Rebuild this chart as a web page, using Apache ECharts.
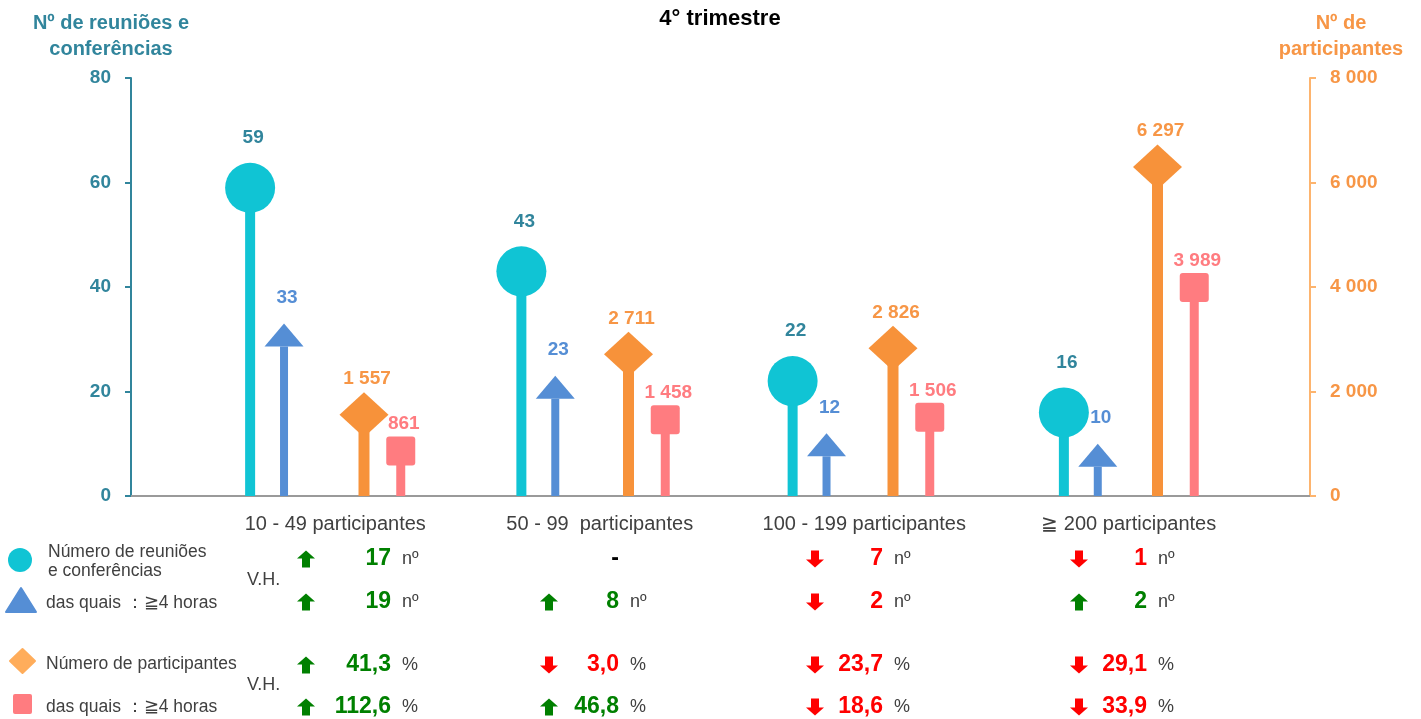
<!DOCTYPE html>
<html>
<head>
<meta charset="utf-8">
<title>4° trimestre</title>
<script src="https://cdn.jsdelivr.net/npm/echarts@6/dist/echarts.min.js"></script>
<style>
  html, body { margin: 0; padding: 0; background: #fff; }
  #chart { width: 1421px; height: 719px; }
</style>
</head>
<body>
<div id="chart"></div>
<script>
// categories and values
const categories = ['10 - 49 participantes', '50 - 99  participantes', '100 - 199 participantes', '≧ 200 participantes']
const meetings = [59, 43, 22, 16]
const meetings4h = [33, 23, 12, 10]
const participants = [1557, 2711, 2826, 6297]
const participants4h = [861, 1458, 1506, 3989]

// axis ranges
const leftMax = 80, leftStep = 20
const rightMax = 8000, rightStep = 2000

// variação homóloga (null = sem variação)
const vhMeetings = [17, null, -7, -1]
const vhMeetings4h = [19, 8, -2, 2]
const vhParticipants = [41.3, -3.0, -23.7, -29.1]
const vhParticipants4h = [112.6, 46.8, -18.6, -33.9]

const FONT = "'Liberation Sans', Arial, sans-serif"
const TEAL = '#31859C'
const ORANGE_TXT = '#F79646'
const GREY_TXT = '#404040'

function spaced(v) {
  return String(v).replace(/\B(?=(\d{3})+(?!\d))/g, ' ')
}

// lollipop drawn with a custom series: stem + head + label
function lollipop(name, data, xIdx, yIdx, cfg) {
  return {
    name: name,
    type: 'custom',
    coordinateSystem: 'cartesian2d',
    xAxisIndex: xIdx,
    yAxisIndex: yIdx,
    data: data.map((v, i) => [i, v]),
    encode: { x: 0, y: 1 },
    renderItem: function(params, api) {
      const i = api.value(0), v = api.value(1)
      const p = api.coord([i, v])
      const base = api.coord([i, 0])[1]
      const x = p[0] + cfg.dx, y = p[1]
      let head
      if (cfg.shape === 'circle') {
        head = { type: 'circle', shape: { cx: x, cy: y, r: 25 } }
      } else if (cfg.shape === 'triangle') {
        head = { type: 'polygon', shape: { points: [[x, y], [x + 19.5, y + 23], [x - 19.5, y + 23]] } }
      } else if (cfg.shape === 'diamond') {
        head = { type: 'polygon', shape: { points: [[x, y - 22.5], [x + 24.5, y], [x, y + 22.5], [x - 24.5, y]] } }
      } else {
        head = { type: 'rect', shape: { x: x - 14.5, y: y - 14.5, width: 29, height: 29, r: 3 } }
      }
      head.style = { fill: cfg.color }
      const stemTop = y + (cfg.stemFrom || 0)
      return {
        type: 'group',
        children: [
          { type: 'rect', shape: { x: x - cfg.stem / 2, y: stemTop, width: cfg.stem, height: base - stemTop }, style: { fill: cfg.color } },
          head,
          {
            type: 'text',
            style: {
              x: x + 3, y: y - cfg.labelGap,
              text: spaced(v),
              align: 'center', verticalAlign: 'middle',
              fill: cfg.labelColor,
              font: 'bold 19px ' + FONT
            }
          }
        ]
      }
    }
  }
}

// bottom table (V.H.)
const colArrow = [306, 549, 815, 1079]
const colValue = [391, 619, 883, 1147]
const rowY = [559, 602, 665, 707]

function arrow(cx, cy, up, color) {
  const s = up ? 1 : -1
  const pts = [[0, -8.5], [9, -0.5], [4, -0.5], [4, 8.5], [-4, 8.5], [-4, -0.5], [-9, -0.5]]
  return {
    type: 'polygon',
    shape: { points: pts.map(q => [cx + q[0], cy + s * q[1]]) },
    style: { fill: color }
  }
}

function tableRow(values, y, decimals, unit) {
  const els = []
  values.forEach((v, i) => {
    if (v === null) {
      els.push({ type: 'text', style: { x: colValue[i], y: y, text: '-', align: 'right', verticalAlign: 'middle', fill: '#000', font: 'bold 23px ' + FONT } })
      return
    }
    const up = v >= 0
    const color = up ? '#008000' : '#FF0000'
    els.push(arrow(colArrow[i], y, up, color))
    els.push({ type: 'text', style: { x: colValue[i], y: y, text: Math.abs(v).toFixed(decimals).replace('.', ','), align: 'right', verticalAlign: 'middle', fill: color, font: 'bold 23px ' + FONT } })
    els.push({ type: 'text', style: { x: colValue[i] + 11, y: y, text: unit, align: 'left', verticalAlign: 'middle', fill: GREY_TXT, font: '18px ' + FONT } })
  })
  return els
}

const legendEls = [
  { type: 'circle', shape: { cx: 20, cy: 560, r: 12 }, style: { fill: '#10C4D4' } },
  { type: 'text', style: { x: 48, y: 562, text: 'Número de reuniões\ne conferências', lineHeight: 19, verticalAlign: 'middle', fill: GREY_TXT, font: '17.5px ' + FONT } },
  { type: 'polygon', shape: { points: [[21, 588], [36, 612], [6, 612]] }, style: { fill: '#558ED5', lineJoin: 'round', stroke: '#558ED5', lineWidth: 2 } },
  { type: 'text', style: { x: 46, y: 603, text: 'das quais ：≧4 horas', verticalAlign: 'middle', fill: GREY_TXT, font: '17.5px ' + FONT } },
  { type: 'polygon', shape: { points: [[22.5, 649], [35, 661], [22.5, 673], [10, 661]] }, style: { fill: '#FFAD5B', lineJoin: 'round', stroke: '#FFAD5B', lineWidth: 2 } },
  { type: 'text', style: { x: 46, y: 664, text: 'Número de participantes', verticalAlign: 'middle', fill: GREY_TXT, font: '17.5px ' + FONT } },
  { type: 'rect', shape: { x: 13, y: 694, width: 19, height: 20, r: 2 }, style: { fill: '#FF7C80' } },
  { type: 'text', style: { x: 46, y: 707, text: 'das quais ：≧4 horas', verticalAlign: 'middle', fill: GREY_TXT, font: '17.5px ' + FONT } },
  { type: 'text', style: { x: 247, y: 580, text: 'V.H.', verticalAlign: 'middle', fill: GREY_TXT, font: '18px ' + FONT } },
  { type: 'text', style: { x: 247, y: 685, text: 'V.H.', verticalAlign: 'middle', fill: GREY_TXT, font: '18px ' + FONT } },
  { type: 'text', style: { x: 720, y: 19, text: '4° trimestre', align: 'center', verticalAlign: 'middle', fill: '#000', font: 'bold 22px ' + FONT } }
]

const chart = echarts.init(document.getElementById('chart'))

chart.setOption({
  animation: false,
  grid: [
    { left: 131, right: 111, top: 78, bottom: 223 },  // visible frame
    { left: 131, right: 205, top: 78, bottom: 223 },  // reuniões
    { left: 131, right: 232, top: 78, bottom: 223 }   // participantes
  ],
  xAxis: [
    {
      gridIndex: 0, type: 'category', data: categories,
      axisLine: { lineStyle: { color: '#9A9A9A', width: 2 } },
      axisTick: { show: false }, axisLabel: { show: false }
    },
    { gridIndex: 1, type: 'category', data: categories, show: false },
    {
      gridIndex: 2, type: 'category', data: categories,
      axisLine: { show: false }, axisTick: { show: false },
      axisLabel: {
        interval: 0, margin: 18, padding: [0, 0, 0, 144],
        color: GREY_TXT, fontSize: 20, fontFamily: FONT
      }
    }
  ],
  yAxis: [
    {
      gridIndex: 0, type: 'value', position: 'left',
      min: 0, max: leftMax, interval: leftStep,
      name: 'Nº de reuniões e\nconferências',
      nameLocation: 'end', nameGap: 16,
      nameTextStyle: { color: TEAL, fontWeight: 'bold', fontSize: 20, lineHeight: 26, fontFamily: FONT, align: 'center', padding: [0, 40, 0, 0] },
      axisLine: { show: true, lineStyle: { color: TEAL, width: 2 } },
      axisTick: { show: true, length: 6, lineStyle: { color: TEAL, width: 2 } },
      axisLabel: { color: TEAL, fontWeight: 'bold', fontSize: 19, fontFamily: FONT, margin: 20 },
      splitLine: { show: false }
    },
    {
      gridIndex: 0, type: 'value', position: 'right',
      min: 0, max: rightMax, interval: rightStep,
      name: 'Nº de\nparticipantes',
      nameLocation: 'end', nameGap: 16,
      nameTextStyle: { color: ORANGE_TXT, fontWeight: 'bold', fontSize: 20, lineHeight: 26, fontFamily: FONT, align: 'center', padding: [0, 0, 0, 62] },
      axisLine: { show: true, lineStyle: { color: '#FDB46E', width: 2 } },
      axisTick: { show: true, length: 6, lineStyle: { color: '#FDB46E', width: 2 } },
      axisLabel: { color: ORANGE_TXT, fontWeight: 'bold', fontSize: 19, fontFamily: FONT, margin: 20, formatter: v => spaced(v) },
      splitLine: { show: false }
    },
    { gridIndex: 1, type: 'value', min: 0, max: leftMax, show: false, splitLine: { show: false } },
    { gridIndex: 2, type: 'value', min: 0, max: rightMax, show: false, splitLine: { show: false } }
  ],
  series: [
    lollipop('Número de reuniões e conferências', meetings, 1, 2, { shape: 'circle', dx: -16.5, stem: 10, color: '#10C4D4', labelColor: TEAL, labelGap: 50 }),
    lollipop('das quais ≧4 horas', meetings4h, 1, 2, { shape: 'triangle', dx: 17.4, stem: 8, stemFrom: 23, color: '#558ED5', labelColor: '#558ED5', labelGap: 26 }),
    lollipop('Número de participantes', participants, 2, 3, { shape: 'diamond', dx: 100.75, stem: 11, color: '#F7923A', labelColor: ORANGE_TXT, labelGap: 36 }),
    lollipop('das quais ≧4 horas (participantes)', participants4h, 2, 3, { shape: 'square', dx: 137.5, stem: 9, color: '#FF7C80', labelColor: '#FF7C80', labelGap: 27 })
  ],
  graphic: [].concat(
    legendEls,
    tableRow(vhMeetings, rowY[0], 0, 'nº'),
    tableRow(vhMeetings4h, rowY[1], 0, 'nº'),
    tableRow(vhParticipants, rowY[2], 1, '%'),
    tableRow(vhParticipants4h, rowY[3], 1, '%')
  )
})
</script>
</body>
</html>
